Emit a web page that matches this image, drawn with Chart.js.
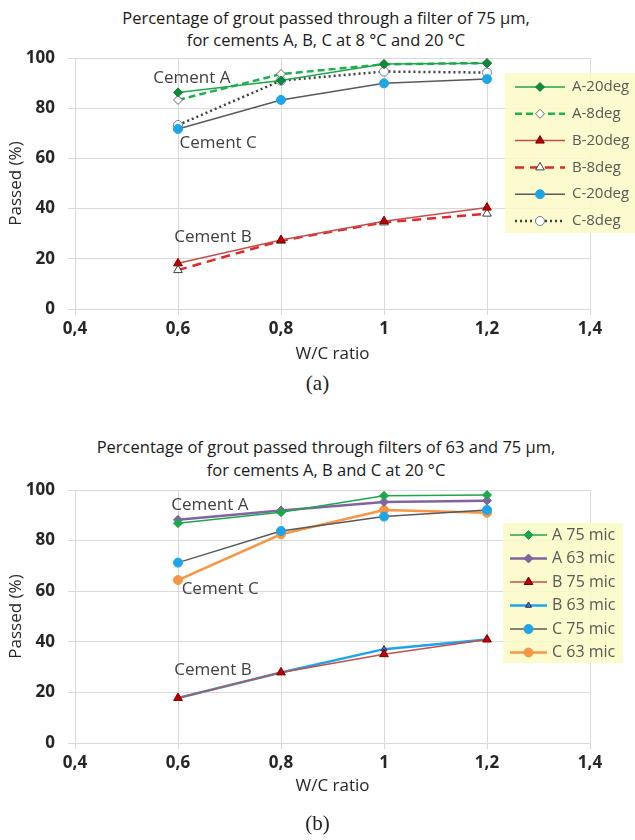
<!DOCTYPE html>
<html>
<head>
<meta charset="utf-8">
<script src="https://cdn.jsdelivr.net/npm/chart.js@4.4.1/dist/chart.umd.min.js"></script>
<style>
body { margin: 0; background: #fff; width: 635px; height: 840px; position: relative; overflow: hidden; }
.box { position: absolute; left: 0; width: 635px; }
#wrapA { top: 0; height: 370px; }
#wrapB { top: 400px; height: 440px; }
.cap { position: absolute; left: 0; width: 635px; text-align: center; font-family: "Liberation Serif", serif; font-size: 21px; line-height: 24px; color: #222; }
.ttl { position: absolute; left: 17px; width: 618px; text-align: center; font-family: "Open Sans", sans-serif; font-size: 16.5px; color: #1a1a1a; white-space: nowrap; }
</style>
</head>
<body>
<div class="ttl" style="top:7px; line-height:22px">Percentage of grout passed through a filter of 75 µm,<br>for cements A, B, C at 8 °C and 20 °C</div>
<div class="box" id="wrapA"><canvas id="chartA"></canvas></div>
<div class="cap" style="top:371px">(a)</div>
<div class="ttl" style="top:435px; line-height:23px">Percentage of grout passed through filters of 63 and 75 µm,<br>for cements A, B and C at 20 °C</div>
<div class="box" id="wrapB"><canvas id="chartB"></canvas></div>
<div class="cap" style="top:811px">(b)</div>
<script>
// W/C ratio on the x axis
const wcRatio = [0.6, 0.8, 1.0, 1.2];
const xTickLabels = ['0,4', '0,6', '0,8', '1', '1,2', '1,4'];

// chart (a): 75 micron filter, 20 and 8 degrees
const a20deg = [86.3, 91.0, 97.6, 97.9];
const a8deg = [83.3, 93.6, 97.5, 98.0];
const b20deg = [18.2, 27.5, 35.0, 40.4];
const b8deg = [15.5, 27.2, 34.5, 38.0];
const c20deg = [71.7, 83.3, 89.9, 91.6];
const c8deg = [73.3, 91.0, 94.6, 94.2];

// chart (b): 63 and 75 micron filters at 20 degrees
const a75mic = [86.9, 91.2, 97.7, 98.0];
const a63mic = [88.2, 91.9, 95.3, 95.8];
const b75mic = [17.8, 27.9, 35.1, 40.9];
const b63mic = [17.8, 27.9, 37.1, 40.9];
const c75mic = [71.3, 83.8, 89.5, 92.1];
const c63mic = [64.4, 82.5, 92.1, 91.0];

const FONT = '"Open Sans", Lato, sans-serif';

function pts(values) {
    return wcRatio.map((x, i) => ({ x: x, y: values[i] }));
}

function series(label, values, style) {
    return Object.assign({
        label: label,
        data: pts(values),
        borderWidth: 1.5,
        pointRadius: 4.5,
        pointBorderWidth: 1,
        tension: 0
    }, style);
}

// yellow legend box drawn over the plot, like the original
const boxLegend = {
    id: 'boxLegend',
    afterDraw(chart, args, opts) {
        const ctx = chart.ctx;
        ctx.save();
        ctx.fillStyle = opts.bg;
        ctx.fillRect(opts.x, opts.y, opts.w, opts.h);
        chart.data.datasets.forEach((ds, i) => {
            const cy = opts.y + opts.first + i * opts.gap;
            ctx.strokeStyle = ds.borderColor;
            ctx.lineWidth = ds.borderWidth;
            ctx.setLineDash(ds.borderDash || []);
            ctx.beginPath();
            ctx.moveTo(opts.x + opts.line0, cy);
            ctx.lineTo(opts.x + opts.line1, cy);
            ctx.stroke();
            ctx.setLineDash([]);
            ctx.fillStyle = ds.pointBackgroundColor;
            ctx.strokeStyle = ds.pointBorderColor;
            ctx.lineWidth = ds.pointBorderWidth;
            Chart.helpers.drawPoint(ctx, {
                pointStyle: ds.pointStyle,
                radius: ds.pointRadius,
                borderWidth: ds.pointBorderWidth
            }, opts.x + (opts.line0 + opts.line1) / 2, cy);
            ctx.fillStyle = '#595959';
            ctx.font = opts.font;
            ctx.textAlign = 'left';
            ctx.textBaseline = 'middle';
            ctx.fillText(ds.label, opts.x + opts.text, cy);
        });
        ctx.restore();
    }
};

// "Cement A/B/C" notes placed in data coordinates
const cementNotes = {
    id: 'cementNotes',
    afterDatasetsDraw(chart, args, opts) {
        const ctx = chart.ctx;
        ctx.save();
        ctx.font = '17px ' + FONT;
        ctx.fillStyle = '#404040';
        ctx.textAlign = 'center';
        ctx.textBaseline = 'middle';
        opts.items.forEach(n => {
            ctx.fillText(n.text, chart.scales.x.getPixelForValue(n.x), chart.scales.y.getPixelForValue(n.y));
        });
        ctx.restore();
    }
};

function makeOptions(padTop, padBottom, xFit, xTitlePad, legend, notes) {
    return {
        responsive: true,
        maintainAspectRatio: false,
        animation: false,
        layout: { padding: { left: 0, right: 45, top: padTop, bottom: padBottom } },
        plugins: {
            legend: { display: false },
            tooltip: { enabled: false },
            title: { display: false },
            boxLegend: legend,
            cementNotes: { items: notes }
        },
        scales: {
            x: {
                type: 'linear',
                min: 0.4,
                max: 1.4,
                ticks: {
                    stepSize: 0.2,
                    padding: 4,
                    color: '#262626',
                    font: { family: FONT, size: 17, weight: 'bold' },
                    callback: v => xTickLabels[Math.round((v - 0.4) / 0.2)]
                },
                grid: { color: '#d9d9d9', tickLength: 6 },
                border: { color: '#d9d9d9' },
                title: {
                    display: true,
                    text: 'W/C ratio',
                    color: '#262626',
                    font: { family: FONT, size: 17 },
                    padding: { top: 0, bottom: xTitlePad }
                },
                afterFit: s => { s.height = xFit; }
            },
            y: {
                min: 0,
                max: 100,
                ticks: {
                    stepSize: 20,
                    padding: 13,
                    color: '#262626',
                    font: { family: FONT, size: 17, weight: 'bold' }
                },
                grid: { color: '#d9d9d9', tickLength: 7 },
                border: { color: '#d9d9d9' },
                title: {
                    display: true,
                    text: 'Passed (%)',
                    color: '#262626',
                    font: { family: FONT, size: 17 },
                    padding: { top: 6, bottom: 0 }
                },
                afterFit: s => { s.width = 75; }
            }
        }
    };
}

new Chart(document.getElementById('chartA'), {
    type: 'line',
    data: {
        datasets: [
            series('A-20deg', a20deg, { borderColor: '#1fa64a', pointStyle: 'rectRot', pointBackgroundColor: '#0f8a3a', pointBorderColor: '#0f7a35' }),
            series('A-8deg', a8deg, { borderColor: '#1fb04f', borderWidth: 2.5, borderDash: [7, 4], pointStyle: 'rectRot', pointBackgroundColor: '#ffffff', pointBorderColor: '#666666' }),
            series('B-20deg', b20deg, { borderColor: '#c0504d', pointStyle: 'triangle', pointRadius: 5, pointBackgroundColor: '#c00000', pointBorderColor: '#7a0000' }),
            series('B-8deg', b8deg, { borderColor: '#e0282a', borderWidth: 2.5, borderDash: [9, 6], pointStyle: 'triangle', pointRadius: 5, pointBackgroundColor: '#ffffff', pointBorderColor: '#404040' }),
            series('C-20deg', c20deg, { borderColor: '#595959', pointStyle: 'circle', pointBackgroundColor: '#1ea5e8', pointBorderColor: '#1ea5e8' }),
            series('C-8deg', c8deg, { borderColor: '#404040', borderWidth: 2.5, borderDash: [2, 3], pointStyle: 'circle', pointBackgroundColor: '#ffffff', pointBorderColor: '#6a7f99' })
        ]
    },
    options: makeOptions(58, 0, 61, 6,
        { x: 505, y: 73, w: 130, h: 160, first: 14, gap: 26.8, line0: 10, line1: 60, text: 67, bg: 'rgba(252,250,196,0.85)', font: '15px ' + FONT },
        [
            { text: 'Cement A', x: 0.627, y: 92 },
            { text: 'Cement C', x: 0.678, y: 66 },
            { text: 'Cement B', x: 0.668, y: 28.7 }
        ]
    ),
    plugins: [boxLegend, cementNotes]
});

new Chart(document.getElementById('chartB'), {
    type: 'line',
    data: {
        datasets: [
            series('A 75 mic', a75mic, { borderColor: '#1fa64a', pointStyle: 'rectRot', pointBackgroundColor: '#1fa64a', pointBorderColor: '#1fa64a' }),
            series('A 63 mic', a63mic, { borderColor: '#8064a2', borderWidth: 2.5, pointStyle: 'rectRot', pointBackgroundColor: '#8064a2', pointBorderColor: '#8064a2' }),
            series('B 75 mic', b75mic, { borderColor: '#c0504d', pointStyle: 'triangle', pointRadius: 5, pointBackgroundColor: '#c00000', pointBorderColor: '#7a0000' }),
            series('B 63 mic', b63mic, { borderColor: '#1ea5e8', borderWidth: 2.5, pointStyle: 'triangle', pointRadius: 3.5, pointBackgroundColor: '#5a6ea8', pointBorderColor: '#2a2a5a' }),
            series('C 75 mic', c75mic, { borderColor: '#595959', pointStyle: 'circle', pointBackgroundColor: '#1ea5e8', pointBorderColor: '#1ea5e8' }),
            series('C 63 mic', c63mic, { borderColor: '#f79646', borderWidth: 2.5, pointStyle: 'circle', pointBackgroundColor: '#f79646', pointBorderColor: '#f79646' })
        ]
    },
    options: makeOptions(90, 40, 57, 4,
        { x: 503, y: 123, w: 120, h: 140, first: 12, gap: 23.5, line0: 7, line1: 44, text: 49, bg: 'rgba(252,250,196,0.85)', font: '16px ' + FONT },
        [
            { text: 'Cement A', x: 0.662, y: 94 },
            { text: 'Cement C', x: 0.682, y: 61 },
            { text: 'Cement B', x: 0.668, y: 28.7 }
        ]
    ),
    plugins: [boxLegend, cementNotes]
});
</script>
</body>
</html>
